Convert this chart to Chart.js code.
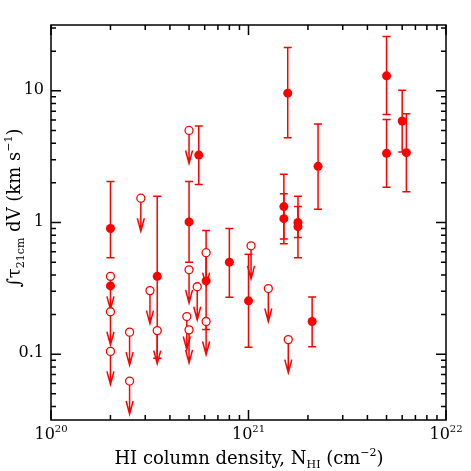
<!DOCTYPE html>
<html>
<head>
<meta charset="utf-8">
<script src="https://cdn.jsdelivr.net/npm/chart.js@4"></script>
<style>
  html, body { margin: 0; padding: 0; background: #fff; }
  #wrap { width: 471px; height: 471px; position: relative; }
</style>
</head>
<body>
<div id="wrap"><canvas id="chart"></canvas></div>
<script>
// detections (filled points) with error bars
const detN = [2.0e20, 2.0e20, 3.45e20, 5.0e20, 5.6e20, 6.1e20, 8.0e20, 1.0e21, 1.58e21,
  1.51e21, 1.51e21, 1.78e21, 1.78e21, 2.1e21, 2.25e21, 5.0e21, 5.0e21, 6.0e21, 6.3e21];
const detTau = [0.90, 0.33, 0.39, 1.01, 3.25, 0.36, 0.50, 0.254, 9.6,
  1.32, 1.07, 1.0, 0.93, 0.177, 2.67, 13.0, 3.35, 5.9, 3.39];
const detHi = [2.05, null, 1.58, 2.05, 5.4, 0.87, 0.90, 0.575, 21.3,
  2.33, 1.65, 1.58, 1.32, 0.272, 5.6, 25.9, 6.05, 10.1, 6.7];
const detLo = [0.54, null, 0.093, 0.50, 1.94, 0.154, 0.27, 0.113, 4.4,
  0.69, 0.75, 0.77, 0.54, 0.114, 1.26, 6.6, 1.85, 3.43, 1.71];

// upper limits (open circles with arrows)
const limN = [2.0e20, 2.0e20, 2.0e20, 2.5e20, 2.5e20, 2.85e20, 3.17e20, 3.45e20,
  5.0e20, 5.0e20, 5.0e20, 4.87e20, 5.5e20, 6.1e20, 6.1e20, 1.03e21, 1.26e21, 1.59e21];
const limTau = [0.39, 0.21, 0.105, 0.147, 0.0625, 1.53, 0.304, 0.151,
  5.0, 0.437, 0.153, 0.193, 0.325, 0.59, 0.177, 0.665, 0.315, 0.129];

// axis ranges and labels
const xRange = [1e20, 1e22];
const yRange = [Math.pow(10, -1.5), Math.pow(10, 1.5)];
const xTickExp = ['20', '21', '22'];
const yTickLabels = ['0.1', '1', '10'];

const RED = '#ff0000';
const FONT = '"DejaVu Serif", serif';

const detPoints = detN.map((x, i) => ({ x, y: detTau[i] }));
const limPoints = limN.map((x, i) => ({ x, y: limTau[i] }));

// error bars + upper-limit arrows, drawn under the markers
const marksPlugin = {
  id: 'marks',
  beforeDatasetsDraw(chart) {
    const { ctx, scales: { x, y } } = chart;
    ctx.save();
    ctx.strokeStyle = RED;
    ctx.lineWidth = 1.5;
    detN.forEach((n, i) => {
      if (detHi[i] == null) return;
      const px = x.getPixelForValue(n);
      const top = y.getPixelForValue(detHi[i]);
      const bot = y.getPixelForValue(detLo[i]);
      ctx.beginPath();
      ctx.moveTo(px, top); ctx.lineTo(px, bot);
      ctx.moveTo(px - 4, top); ctx.lineTo(px + 4, top);
      ctx.moveTo(px - 4, bot); ctx.lineTo(px + 4, bot);
      ctx.stroke();
    });
    limN.forEach((n, i) => {
      const px = x.getPixelForValue(n);
      const py = y.getPixelForValue(limTau[i]);
      const tip = py + 33;
      ctx.beginPath();
      ctx.moveTo(px, py); ctx.lineTo(px, tip);
      ctx.moveTo(px - 3.5, tip - 13); ctx.lineTo(px, tip); ctx.lineTo(px + 3.5, tip - 13);
      ctx.stroke();
    });
    ctx.restore();
  }
};

function drawSupText(ctx, parts, x, y, align, size) {
  // parts: [text, kind] where kind is '', 'sup' or 'sub'
  const small = Math.round(size * 0.62);
  const widths = parts.map(([t, k]) => {
    ctx.font = (k ? small : size) + 'px ' + FONT;
    return ctx.measureText(t).width;
  });
  const total = widths.reduce((a, b) => a + b, 0);
  let cx = align === 'center' ? x - total / 2 : (align === 'right' ? x - total : x);
  parts.forEach(([t, k], i) => {
    ctx.font = (k ? small : size) + 'px ' + FONT;
    const dy = k === 'sup' ? -size * 0.45 : (k === 'sub' ? size * 0.22 : 0);
    ctx.fillText(t, cx, y + dy);
    cx += widths[i];
  });
}

// frame, inward ticks, tick labels and titles
const axesPlugin = {
  id: 'axes',
  afterDraw(chart) {
    const { ctx, chartArea: a, scales: { x, y } } = chart;
    ctx.save();
    ctx.strokeStyle = '#000';
    ctx.fillStyle = '#000';
    ctx.lineWidth = 1.5;
    ctx.strokeRect(a.left, a.top, a.right - a.left, a.bottom - a.top);

    ctx.beginPath();
    for (let e = 20; e <= 22; e++) {
      for (let m = 1; m <= 9; m++) {
        const v = m * Math.pow(10, e);
        if (v < xRange[0] || v > xRange[1]) continue;
        const px = x.getPixelForValue(v);
        const len = m === 1 ? 10 : 5;
        ctx.moveTo(px, a.bottom); ctx.lineTo(px, a.bottom - len);
        ctx.moveTo(px, a.top); ctx.lineTo(px, a.top + len);
      }
    }
    for (let e = -2; e <= 1; e++) {
      for (let m = 1; m <= 9; m++) {
        const v = m * Math.pow(10, e);
        if (v < yRange[0] || v > yRange[1]) continue;
        const py = y.getPixelForValue(v);
        const len = m === 1 ? 10 : 5;
        ctx.moveTo(a.left, py); ctx.lineTo(a.left + len, py);
        ctx.moveTo(a.right, py); ctx.lineTo(a.right - len, py);
      }
    }
    ctx.stroke();

    ctx.textBaseline = 'alphabetic';
    ctx.textAlign = 'left';
    xTickExp.forEach(ex => {
      const px = x.getPixelForValue(Math.pow(10, +ex));
      drawSupText(ctx, [['10', ''], [ex, 'sup']], px, 439, 'center', 16);
    });

    ctx.font = '16px ' + FONT;
    ctx.textAlign = 'right';
    ctx.textBaseline = 'middle';
    yTickLabels.forEach(t => {
      ctx.fillText(t, a.left - 7, y.getPixelForValue(+t) - 1);
    });

    ctx.textAlign = 'left';
    ctx.textBaseline = 'alphabetic';
    drawSupText(ctx, [['HI column density, N', ''], ['HI', 'sub'], [' (cm', ''], ['\u22122', 'sup'], [')', '']],
      249, 464, 'center', 18);

    ctx.translate(20, 208);
    ctx.rotate(-Math.PI / 2);
    drawSupText(ctx, [['\u222B\u03C4', ''], ['21cm', 'sub'], [' dV (km s', ''], ['\u22121', 'sup'], [')', '']],
      0, 0, 'center', 18);
    ctx.restore();
  }
};

new Chart(document.getElementById('chart'), {
  type: 'scatter',
  data: {
    datasets: [
      {
        data: detPoints,
        pointRadius: 4.5,
        pointBackgroundColor: RED,
        pointBorderColor: RED,
        pointBorderWidth: 0
      },
      {
        data: limPoints,
        pointRadius: 4,
        pointBackgroundColor: '#fff',
        pointBorderColor: RED,
        pointBorderWidth: 1.3
      }
    ]
  },
  options: {
    responsive: true,
    maintainAspectRatio: false,
    animation: false,
    layout: { padding: { left: 51, right: 25, top: 25, bottom: 51 } },
    plugins: { legend: { display: false }, tooltip: { enabled: false } },
    scales: {
      x: { type: 'logarithmic', min: xRange[0], max: xRange[1], display: false },
      y: { type: 'logarithmic', min: yRange[0], max: yRange[1], display: false }
    }
  },
  plugins: [marksPlugin, axesPlugin]
});
</script>
</body>
</html>
